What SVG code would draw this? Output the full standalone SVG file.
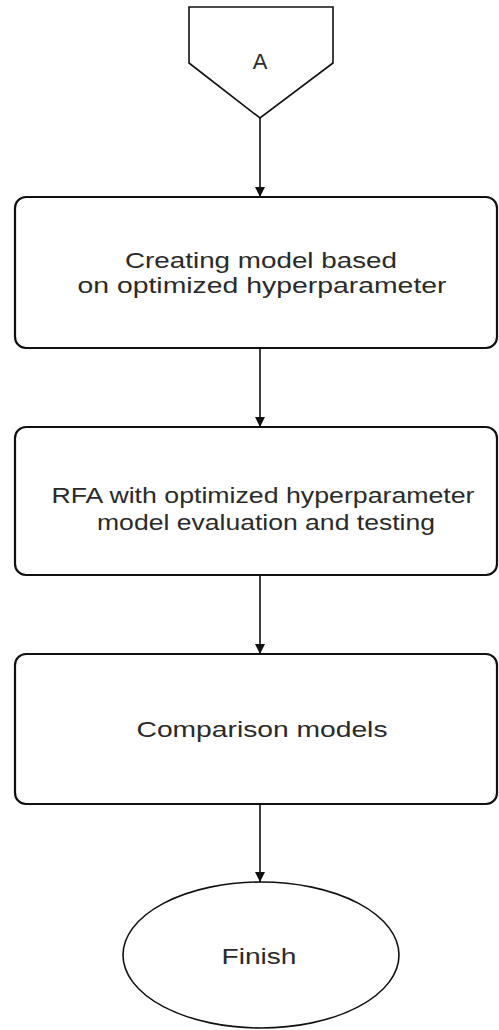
<svg xmlns="http://www.w3.org/2000/svg" width="499" height="1030" viewBox="0 0 499 1030">
<style>
.shape{fill:#fff;stroke:#111;stroke-width:1.6}
.box{fill:#fff;stroke:#111;stroke-width:2.2}
.lbl{font-family:"Liberation Sans",Arial,sans-serif;font-size:22px;fill:#2a2a2a;text-anchor:middle}
.edge{stroke:#111;stroke-width:1.6;fill:none;marker-end:url(#arr)}
</style>
<defs>
<marker id="arr" viewBox="0 0 10 10" refX="10" refY="5" markerWidth="10" markerHeight="10" markerUnits="userSpaceOnUse" orient="auto">
<path d="M0,0 L10,5 L0,10 z" fill="#111"/>
</marker>
</defs>
<rect width="499" height="1030" fill="#fff"/>
<g id="connectors">
<line class="edge" x1="260" y1="118" x2="260" y2="197"/>
<line class="edge" x1="260" y1="348" x2="260" y2="427"/>
<line class="edge" x1="260" y1="575" x2="260" y2="654"/>
<line class="edge" x1="260" y1="804" x2="260" y2="882"/>
</g>
<g id="nodeA">
<polygon class="shape" points="189,7 333,7 333,63 260,118 189,63"/>
<text class="lbl" x="260" y="69">A</text>
</g>
<g id="node1">
<rect class="box" x="15" y="197" width="482" height="151" rx="11"/>
<text class="lbl" x="261" y="268" textLength="272" lengthAdjust="spacingAndGlyphs">Creating model based</text>
<text class="lbl" x="262" y="293" textLength="369" lengthAdjust="spacingAndGlyphs">on optimized hyperparameter</text>
</g>
<g id="node2">
<rect class="box" x="15" y="427" width="482" height="148" rx="11"/>
<text class="lbl" x="263" y="503" textLength="423" lengthAdjust="spacingAndGlyphs">RFA with optimized hyperparameter</text>
<text class="lbl" x="266" y="530" textLength="338" lengthAdjust="spacingAndGlyphs">model evaluation and testing</text>
</g>
<g id="node3">
<rect class="box" x="15" y="654" width="482" height="150" rx="11"/>
<text class="lbl" x="262" y="737" textLength="251" lengthAdjust="spacingAndGlyphs">Comparison models</text>
</g>
<g id="finish">
<ellipse class="shape" cx="261" cy="955" rx="138" ry="73"/>
<text class="lbl" x="259" y="964" textLength="75" lengthAdjust="spacingAndGlyphs">Finish</text>
</g>
</svg>
